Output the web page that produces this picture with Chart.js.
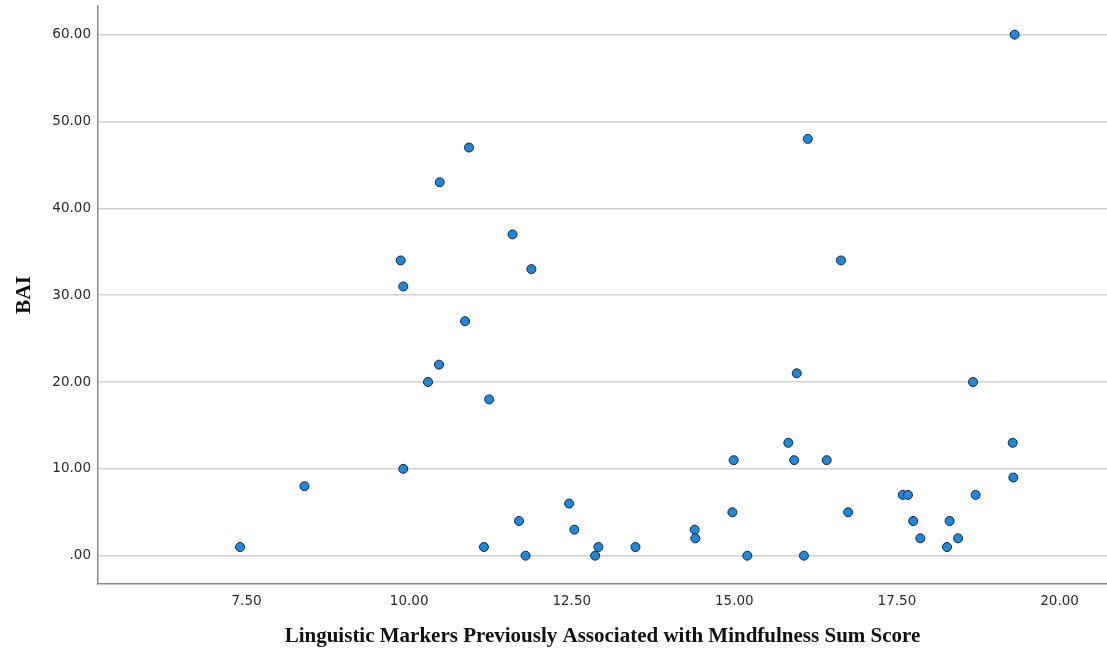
<!DOCTYPE html>
<html>
<head>
<meta charset="utf-8">
<script src="https://cdn.jsdelivr.net/npm/chart.js@4.4.0/dist/chart.umd.min.js"></script>
<style>
  html, body { margin: 0; padding: 0; background: #ffffff; overflow: hidden; }
  #wrap { width: 1107px; height: 652px; }
  canvas { display: block; }
</style>
</head>
<body>
<div id="wrap"><canvas id="c" width="1107" height="652"></canvas></div>
<script>
// Linguistic markers sum score (x) and BAI (y), one entry per participant
const mindfulnessScore = [
  7.40, 8.39, 9.87, 9.91, 9.91, 10.29, 10.47, 10.46, 10.86, 10.92,
  11.15, 11.23, 11.59, 11.69, 11.79, 11.88, 12.46, 12.54, 12.86, 12.91,
  13.48, 14.39, 14.40, 14.97, 14.99, 15.20, 15.83, 15.92, 15.96, 16.07,
  16.13, 16.42, 16.64, 16.75, 17.59, 17.67, 17.75, 17.86, 18.27, 18.31,
  18.44, 18.67, 18.71, 19.28, 19.29, 19.31
];
const baiScore = [
  1, 8, 34, 31, 10, 20, 43, 22, 27, 47,
  1, 18, 37, 4, 0, 33, 6, 3, 0, 1,
  1, 3, 2, 5, 11, 0, 13, 11, 21, 0,
  48, 11, 34, 5, 7, 7, 4, 2, 1, 4,
  2, 20, 7, 13, 9, 60
];
const xTickValues = [7.5, 10, 12.5, 15, 17.5, 20];
const xTickLabels = ['7.50', '10.00', '12.50', '15.00', '17.50', '20.00'];
const yTickValues = [0, 10, 20, 30, 40, 50, 60];
const yTickLabels = ['.00', '10.00', '20.00', '30.00', '40.00', '50.00', '60.00'];
const xAxisTitle = 'Linguistic Markers Previously Associated with Mindfulness Sum Score';
const yAxisTitle = 'BAI';

const points = mindfulnessScore.map((x, i) => ({ x: x, y: baiScore[i] }));

const tickFont = { family: '"DejaVu Sans", Verdana, sans-serif', size: 13.5 };
const serif = '"Liberation Serif", "Times New Roman", serif';

new Chart(document.getElementById('c'), {
  type: 'scatter',
  data: {
    datasets: [{
      data: points,
      backgroundColor: '#1a8ae0',
      borderColor: '#1c2230',
      borderWidth: 1,
      pointRadius: 4.5,
      pointHoverRadius: 4.5
    }]
  },
  options: {
    responsive: false,
    animation: false,
    devicePixelRatio: 1,
    layout: { autoPadding: false, padding: { top: 6, right: 0, bottom: 0, left: 0 } },
    plugins: { legend: { display: false }, tooltip: { enabled: false } },
    scales: {
      x: {
        type: 'linear',
        min: 5.216,
        max: 20.73,
        afterBuildTicks: (s) => { s.ticks = xTickValues.map(v => ({ value: v })); },
        afterFit: (s) => { s.height = 68; s.paddingLeft = 0; s.paddingRight = 0; },
        ticks: {
          font: tickFont,
          color: '#2a2a2a',
          padding: 9,
          maxRotation: 0,
          autoSkip: false,
          callback: (v) => { const i = xTickValues.indexOf(v); return i >= 0 ? xTickLabels[i] : ''; }
        },
        grid: { drawOnChartArea: false, drawTicks: false },
        border: { display: true, color: '#8a8a8a', width: 1.5 },
        title: {
          display: true,
          text: xAxisTitle,
          font: { family: serif, size: 21, weight: 'bold' },
          color: '#111111',
          padding: { top: 0, bottom: 3 }
        }
      },
      y: {
        type: 'linear',
        min: -3.26,
        max: 63.3,
        afterBuildTicks: (s) => { s.ticks = yTickValues.map(v => ({ value: v })); },
        afterFit: (s) => { s.width = 98; s.paddingTop = 0; s.paddingBottom = 0; },
        ticks: {
          font: tickFont,
          color: '#2a2a2a',
          padding: 7,
          autoSkip: false,
          callback: (v) => { const i = yTickValues.indexOf(v); return i >= 0 ? yTickLabels[i] : ''; }
        },
        grid: { color: '#d2d2d2', lineWidth: 1.5, drawTicks: false },
        border: { display: true, color: '#8a8a8a', width: 1.5 },
        title: {
          display: true,
          text: yAxisTitle,
          font: { family: serif, size: 21.5, weight: 'bold' },
          color: '#111111',
          padding: { top: 12, bottom: 0 }
        }
      }
    }
  }
});
</script>
</body>
</html>
